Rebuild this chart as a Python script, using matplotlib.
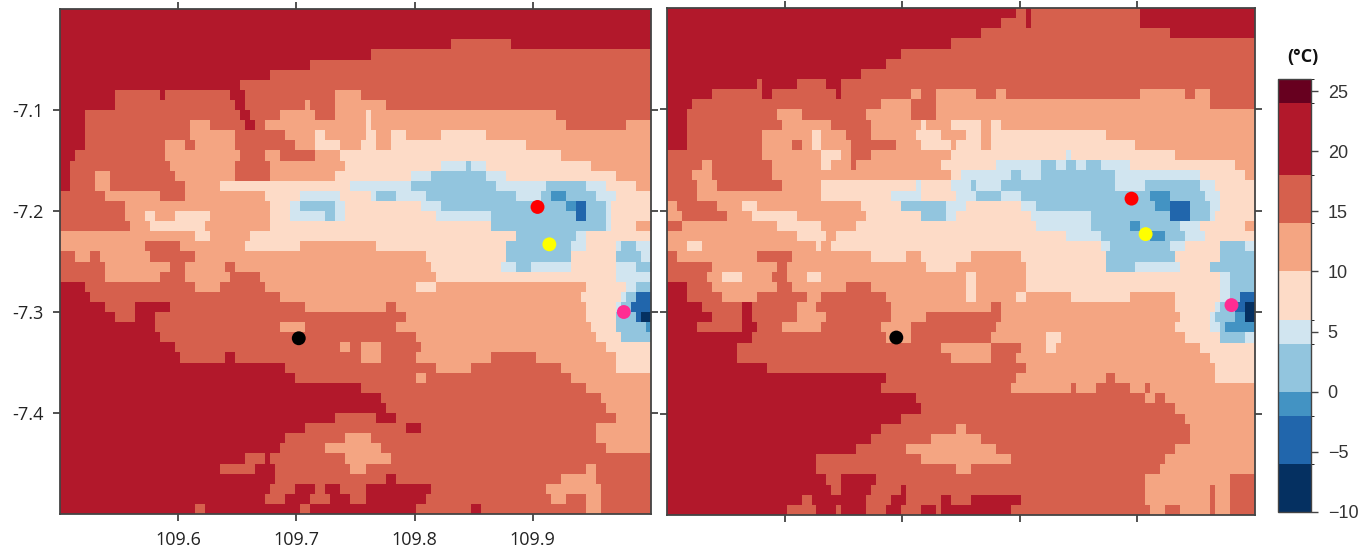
#! /usr/bin/env python3
"""
Two panels of gridded temperature classes with station markers and a
shared stepped colorbar. Grid rows are run lengths, "class:end column".
"""

import numpy as np
import matplotlib
matplotlib.use('Agg')
import matplotlib.pyplot as plt
from matplotlib.colors import ListedColormap, BoundaryNorm

LEVELS = [-10, -6, -2, 0, 4, 6, 10, 14, 18, 24, 26]
COLORS = ['#053061', '#2166ac', '#4393c3', '#92c5de', '#d1e5f0',
          '#fddbc7', '#f4a582', '#d6604d', '#b2182b', '#67001f']
CBAR_TICKS = [-10, -5, 0, 5, 10, 15, 20, 25]
XTICKS = [109.6, 109.7, 109.8, 109.9]
YTICKS = [-7.4, -7.3, -7.2, -7.1]

LEFT_ROWS = [
    "8:118", "8:118", "8:118",
    "8:78 7:90 8:118",
    "8:62 7:118",
    "8:50 7:118",
    "8:42 7:118",
    "8:36 7:118",
    "8:11 7:20 8:21 7:34 8:37 7:55 6:60 7:118",
    "8:11 7:35 8:37 7:49 6:50 7:55 6:65 7:118",
    "8:5 7:36 8:38 7:44 6:51 7:55 6:61 5:62 6:99 7:118",
    "8:5 7:26 6:30 7:37 8:39 7:41 6:61 5:62 6:101 7:113 6:118",
    "8:5 7:26 6:35 7:45 6:51 5:53 6:61 5:63 6:66 5:69 6:76 5:85 6:118",
    "8:5 7:21 6:25 7:27 6:35 7:47 6:51 5:56 6:60 5:63 6:66 5:93 6:118",
    "8:3 7:21 6:36 7:41 6:44 7:51 6:56 5:100 6:118",
    "8:2 7:22 6:35 7:42 6:57 5:76 4:81 3:82 4:85 5:106 6:118",
    "8:2 7:7 6:10 7:23 6:35 7:42 6:55 5:70 4:74 3:85 4:89 5:111 6:118",
    "8:2 7:7 6:10 7:25 6:32 5:58 4:70 3:87 4:97 3:105 4:109 5:115 6:118",
    "7:9 6:20 7:25 6:41 5:48 4:56 5:62 4:63 3:67 4:73 3:91 4:96 3:98 2:101 3:107 4:111 5:118",
    "7:13 6:42 5:46 4:48 3:55 4:57 5:72 4:76 3:101 2:103 1:105 3:109 4:110 5:118",
    "7:13 6:17 5:19 6:23 5:30 6:42 5:46 4:53 3:55 4:57 5:75 4:86 3:103 1:105 3:109 4:110 5:118",
    "7:14 6:18 5:29 6:42 5:86 3:109 4:110 5:115 6:118",
    "6:27 5:30 6:38 5:91 3:103 4:105 5:118",
    "6:17 7:24 6:37 5:48 6:63 5:89 3:102 4:105 5:111 4:112 3:115 4:118",
    "7:3 6:6 7:8 6:18 7:27 6:73 5:89 3:102 5:111 3:116 4:118",
    "7:9 6:22 7:25 6:33 7:35 6:74 5:88 4:91 3:94 4:102 5:111 4:115 3:118",
    "7:9 6:20 7:25 6:34 7:40 6:75 5:111 4:118",
    "8:5 7:27 6:32 7:41 6:71 5:75 6:105 5:113 4:115 3:118",
    "8:6 7:44 6:104 5:112 4:113 3:115 1:118",
    "8:9 7:15 8:22 7:49 6:65 7:67 6:105 5:111 4:112 3:114 1:118",
    "8:11 7:15 8:19 7:69 6:105 5:111 3:115 1:116 0:118",
    "8:19 7:44 6:49 7:67 6:106 5:111 3:117 2:118",
    "8:20 7:71 6:107 5:112 3:118",
    "8:23 7:56 6:58 7:60 6:64 7:72 6:109 5:118",
    "8:24 7:33 8:35 7:60 6:64 7:71 6:86 7:95 6:111 5:118",
    "8:45 7:75 6:82 7:100 6:111 5:118",
    "8:47 7:71 6:73 7:102 6:118",
    "8:60 7:105 6:118",
    "8:64 7:108 6:118",
    "8:65 7:109 6:118",
    "8:55 7:63 8:67 7:111 6:118",
    "8:49 7:69 8:72 7:107 6:118",
    "8:45 7:57 6:62 7:107 6:118",
    "8:44 7:53 6:64 7:109 6:118",
    "8:37 7:41 8:42 7:57 6:66 7:118",
    "8:32 7:39 8:43 7:58 6:61 7:105 6:107 7:118",
    "8:43 7:65 8:67 7:100 6:107 7:118",
    "8:42 7:47 8:51 7:53 8:56 7:61 8:74 7:97 6:108 7:118",
    "8:41 7:45 8:50 7:54 8:58 7:61 8:73 7:98 6:101 7:105 6:108 7:118",
    "8:27 7:29 8:48 7:50 8:71 7:82 8:84 7:105 6:108 7:118",
]

RIGHT_ROWS = [
    "8:70 7:72 8:73 7:95 8:118",
    "8:67 7:72 8:73 7:95 8:118",
    "8:63 7:101 8:118",
    "8:57 7:118",
    "8:47 7:118",
    "8:44 7:118",
    "8:39 7:118",
    "8:18 7:19 8:26 7:32 8:35 7:118",
    "8:9 7:19 8:21 7:34 8:35 7:49 6:51 7:54 6:62 7:66 6:68 7:95 6:104 7:106 6:109 7:118",
    "8:5 7:43 6:49 7:54 6:109 7:118",
    "8:4 7:22 6:27 7:40 6:49 7:54 6:118",
    "8:4 7:23 6:33 7:41 6:51 5:52 6:57 5:63 6:65 5:67 6:118",
    "8:4 7:19 6:29 5:31 6:36 7:41 6:50 5:55 6:60 5:63 6:65 5:88 6:118",
    "8:4 7:19 6:25 7:27 6:29 5:31 6:37 7:46 6:51 5:57 6:58 5:63 6:65 5:94 6:118",
    "7:19 6:31 5:35 6:37 7:41 6:57 5:80 4:81 5:102 6:118",
    "7:7 6:9 7:21 6:31 5:33 6:37 7:38 6:55 5:66 4:75 3:78 4:80 3:82 4:84 3:87 4:93 5:114 6:118",
    "7:5 6:9 7:21 6:57 5:59 4:69 3:71 4:75 3:90 4:107 5:116 6:118",
    "7:6 6:10 7:23 6:31 5:50 4:51 5:57 4:61 3:62 4:67 3:90 4:96 3:107 4:110 5:118",
    "7:6 6:31 5:45 4:51 5:58 4:62 3:67 4:71 3:97 2:101 3:108 4:111 5:118",
    "6:2 7:10 6:15 5:18 6:39 5:47 3:56 4:60 5:71 4:74 3:98 2:101 1:105 3:109 4:111 5:118",
    "6:3 7:12 6:17 5:26 6:40 5:51 3:56 4:58 5:73 4:85 3:101 1:105 3:109 4:110 5:118",
    "7:3 6:22 5:31 6:38 5:74 4:85 3:93 2:95 3:103 4:107 5:116 6:118",
    "6:26 5:32 6:34 5:80 4:87 3:97 2:100 3:104 4:108 5:118",
    "6:4 5:7 6:30 5:31 6:33 5:87 4:89 3:101 4:104 5:111 3:116 4:118",
    "7:2 6:18 7:25 6:41 5:48 6:51 5:61 6:71 5:88 3:102 5:111 3:118",
    "7:9 6:22 7:24 6:52 5:58 6:72 5:88 3:94 4:103 5:109 3:118",
    "7:8 6:11 5:15 6:21 7:24 6:28 5:31 6:60 5:62 6:72 5:111 4:113 3:118",
    "8:4 7:9 6:22 7:25 6:36 7:41 6:60 5:62 6:72 5:111 4:113 3:118",
    "8:4 7:11 6:18 7:28 6:31 7:44 6:60 5:62 6:70 5:72 6:81 5:93 6:102 5:111 4:113 3:115 1:118",
    "8:7 7:15 8:17 7:26 6:30 7:45 6:65 7:67 6:102 5:110 4:111 3:114 1:116 0:118",
    "8:9 7:15 8:17 7:26 6:32 7:45 6:52 7:67 6:103 5:109 4:110 3:114 2:116 0:118",
    "8:6 7:15 8:18 7:23 6:31 7:43 6:49 7:66 6:102 5:109 4:111 3:112 2:118",
    "8:17 7:44 6:49 7:65 6:76 5:79 6:104 5:111 3:116 4:118",
    "8:14 7:55 6:65 7:71 6:76 5:78 6:107 5:118",
    "8:14 7:57 6:65 7:70 6:109 5:118",
    "8:20 7:72 6:110 5:118",
    "8:44 7:70 6:88 7:90 6:110 5:118",
    "8:43 7:69 6:81 7:82 6:86 7:93 6:96 7:97 6:118",
    "8:50 7:96 6:98 7:100 6:118",
    "8:51 7:102 6:118",
    "8:47 7:104 6:118",
    "8:43 7:58 6:60 7:105 6:118",
    "8:41 7:53 6:63 7:105 6:118",
    "8:38 7:48 6:66 7:102 6:118",
    "8:30 7:51 6:69 7:100 6:118",
    "8:30 7:58 6:61 7:99 6:118",
    "8:32 7:35 8:42 7:96 6:113 7:118",
    "8:33 7:35 8:41 7:47 8:48 7:96 6:109 7:110 6:113 7:118",
    "8:27 7:29 8:40 7:45 8:48 7:55 8:57 7:61 8:71 7:96 6:109 7:110 6:113 7:118",
    "8:24 7:30 8:34 7:35 8:40 7:44 8:47 7:51 8:54 7:55 8:69 7:97 6:100 7:103 6:109 7:110 6:113 7:118",
]

MARKER_COLORS = ['#ff0000', '#ffff00', '#ff2d92', '#000000']
LEFT_LON = [109.904, 109.914, 109.977, 109.702]
LEFT_LAT = [-7.196, -7.233, -7.300, -7.326]
RIGHT_LON = [109.895, 109.907, 109.980, 109.695]
RIGHT_LAT = [-7.188, -7.223, -7.293, -7.325]


def main():
    plt.rcParams['font.family'] = ['Open Sans', 'DejaVu Sans']
    fig = plt.figure(figsize=(13.65, 5.46), dpi=100)
    cmap = ListedColormap(COLORS)
    norm = BoundaryNorm(LEVELS, cmap.N)

    ax1 = fig.add_axes(pxrect(60, 9, 651, 514))
    mesh = draw_panel(ax1, LEFT_ROWS, LEFT_LON, LEFT_LAT, cmap, norm)
    ax1.tick_params(labelsize=13, labelcolor='#222222', pad=7)
    ax1.set_xticklabels(['%.1f' % t for t in XTICKS])
    ax1.set_yticklabels(['%.1f' % t for t in YTICKS])

    ax2 = fig.add_axes(pxrect(667, 8, 1255, 515))
    draw_panel(ax2, RIGHT_ROWS, RIGHT_LON, RIGHT_LAT, cmap, norm)
    ax2.set_xticklabels([])
    ax2.set_yticklabels([])

    cax = fig.add_axes(pxrect(1278, 79, 1311, 512))
    cb = fig.colorbar(mesh, cax=cax, ticks=CBAR_TICKS, spacing='proportional')
    cb.outline.set_edgecolor('#444444')
    cb.outline.set_linewidth(1.0)
    cb.ax.tick_params(length=5, width=1.0, color='#444444', pad=7,
                      labelsize=13, labelcolor='#333333')
    for t in cb.ax.get_yticklabels():
        t.set_family('Liberation Sans')
    fig.text(1303 / 1365, 1 - 57 / 546, '(°C)', ha='center', va='center',
             fontsize=13, fontweight='bold', color='#111111')

    fig.savefig('out.png', dpi=100)
    return None


def pxrect(x0, y0, x1, y1):
    return [x0 / 1365, 1 - y1 / 546, (x1 - x0) / 1365, (y1 - y0) / 546]


def decode(rows):
    mids = 0.5 * (np.array(LEVELS[:-1]) + np.array(LEVELS[1:]))
    grid = np.zeros((len(rows), 118))
    for k, row in enumerate(rows):
        start = 0
        for run in row.split():
            code, end = run.split(':')
            grid[k, start:int(end)] = mids[int(code)]
            start = int(end)
    return grid


def draw_panel(ax, rows, lon, lat, cmap, norm):
    grid = decode(rows)
    xe = np.linspace(109.5, 110.0, grid.shape[1] + 1)
    ye = np.linspace(-7.0, -7.5, grid.shape[0] + 1)
    mesh = ax.pcolormesh(xe, ye, grid, cmap=cmap, norm=norm, rasterized=True)
    ax.scatter(lon, lat, c=MARKER_COLORS, s=100, linewidths=0, zorder=3)
    ax.set_xlim(109.5, 110.0)
    ax.set_ylim(-7.5, -7.0)
    ax.set_xticks(XTICKS)
    ax.set_yticks(YTICKS)
    ax.tick_params(top=True, right=True, length=5, width=1.2, color='#333333')
    for s in ax.spines.values():
        s.set_linewidth(1.3)
        s.set_color('#444444')
    return mesh


if __name__ == '__main__':
    main()
